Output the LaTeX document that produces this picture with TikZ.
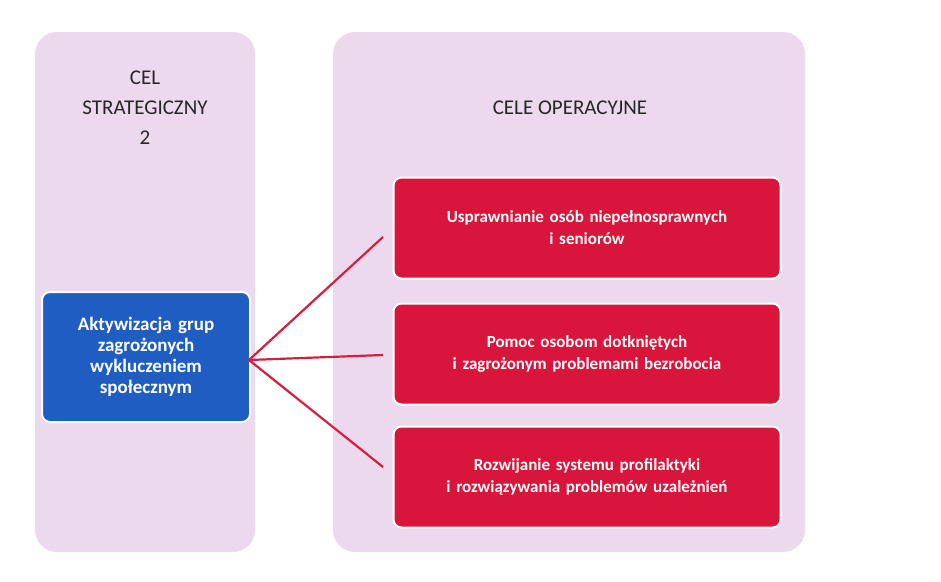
\documentclass[tikz,border=0pt]{standalone}
\usepackage{fontspec}
\setmainfont{Carlito}
\definecolor{panel}{HTML}{EDD9EE}
\definecolor{bluebox}{HTML}{1F5DC2}
\definecolor{redbox}{HTML}{D8153A}
\definecolor{linered}{HTML}{D42040}
\begin{document}
\begin{tikzpicture}[x=1pt,y=-1pt,
  panelbox/.style={fill=panel,draw=none,rounded corners=22pt},
  goal/.style={fill=bluebox,draw=white,line width=2pt,rounded corners=8pt,text=white,font=\bfseries\fontsize{19}{21}\selectfont,align=center,minimum width=208pt,minimum height=130pt,text width=190pt},
  op/.style={fill=redbox,draw=white,line width=2pt,rounded corners=8pt,text=white,font=\bfseries\fontsize{17}{22}\selectfont,align=center,minimum width=387pt,minimum height=101pt,text width=370pt},
  head/.style={font=\fontsize{21}{30}\selectfont,align=center,text=black!85},
  link/.style={draw=linered,line width=2.2pt}]
\useasboundingbox (0,0) rectangle (941,581);
\fill[fill=white] (0,0) rectangle (941,581);
\path[panelbox] (35,32) rectangle (255,552);
\path[panelbox] (333,32) rectangle (805,552);
\node[head] (h1) at (145,108) {CEL\\STRATEGICZNY\\2};
\node[head] (h2) at (570,108) {CELE OPERACYJNE};
\node[goal] (g) at (146,357) {Aktywizacja grup\\zagrożonych\\wykluczeniem\\społecznym};
\node[op] (o1) at (587,228) {Usprawnianie osób niepełnosprawnych\\i seniorów};
\node[op] (o2) at (587,354) {Pomoc osobom dotkniętych\\i zagrożonym problemami bezrobocia};
\node[op] (o3) at (587,477) {Rozwijanie systemu profilaktyki\\i rozwiązywania problemów uzależnień};
\coordinate (c) at (249,360);
\coordinate (e1) at (383,237);
\coordinate (e2) at (383,355);
\coordinate (e3) at (383,467);
\draw[link] (e1) -- (c) -- (e3);
\draw[link] (c) -- (e2);
\end{tikzpicture}
\end{document}
